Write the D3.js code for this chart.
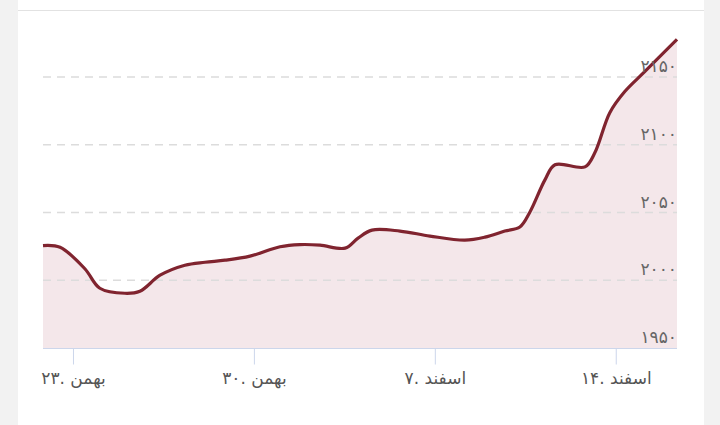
<!DOCTYPE html>
<html>
<head>
<meta charset="utf-8">
<script src="https://cdn.jsdelivr.net/npm/d3@7"></script>
<style>
    body { margin: 0; background: #f2f2f2; }
    svg { display: block; font-family: "DejaVu Sans", sans-serif; }
</style>
</head>
<body>
<svg id="chart"></svg>
<script>
// days counted from 23 Bahman (day 0); 30 Bahman = 7, 7 Esfand = 14, 14 Esfand = 21
const days = [-1.16, -0.5, 0.46, 1.04, 2.01, 2.59, 3.37, 4.33, 5.11, 5.88, 6.85,
    8.01, 8.78, 9.56, 10.53, 11.03, 11.57, 12.65, 13.81, 15.16, 15.94, 16.71, 17.29,
    17.68, 18.26, 18.65, 19.81, 20.19, 20.77, 21.35, 22.13, 23.37];
const prices = [2025.6, 2024.3, 2008.5, 1994.1, 1990.4, 1991.9, 2003.7, 2011.1, 2013.3, 2014.8, 2017.8,
    2024.7, 2026.3, 2025.9, 2023.7, 2031.1, 2037.0, 2036.3, 2032.6, 2029.6, 2031.8, 2036.3, 2039.3,
    2050.4, 2074.1, 2085.2, 2083.7, 2094.1, 2123.7, 2139.3, 2154.1, 2177.8];

const xTicks = [0, 7, 14, 21];
const xTickLabels = ["۲۳. بهمن", "۳۰. بهمن", "۷. اسفند", "۱۴. اسفند"];
const yTicks = [1950, 2000, 2050, 2100, 2150];

const width = 720;
const height = 425;

const toPersian = n => String(n).replace(/\d/g, c => "۰۱۲۳۴۵۶۷۸۹"[+c]);

const svg = d3.select("#chart")
    .attr("width", width)
    .attr("height", height);

// card
svg.append("rect")
    .attr("x", 18)
    .attr("y", 0)
    .attr("width", 686)
    .attr("height", height)
    .attr("fill", "#fff");

svg.append("line")
    .attr("x1", 18)
    .attr("x2", 704)
    .attr("y1", 10.5)
    .attr("y2", 10.5)
    .attr("stroke", "#e2e2e2")
    .attr("stroke-width", 1);

const xScale = d3.scaleLinear()
    .domain([d3.min(days), d3.max(days)])
    .range([43, 677]);

const yScale = d3.scaleLinear()
    .domain([1950, 2150])
    .range([348, 77]);

const data = days.map((d, i) => ({ day: d, value: prices[i] }));

const curve = d3.curveCatmullRom.alpha(0.5);

// area fill
const area = d3.area()
    .x(d => xScale(d.day))
    .y0(yScale(1950))
    .y1(d => yScale(d.value))
    .curve(curve);

svg.append("path")
    .datum(data)
    .attr("d", area)
    .attr("fill", "#f4e7ea");

// dashed gridlines
svg.append("g")
    .selectAll("line")
    .data(yTicks.filter(t => t > 1950))
    .enter()
    .append("line")
    .attr("x1", 43)
    .attr("x2", 677)
    .attr("y1", d => yScale(d))
    .attr("y2", d => yScale(d))
    .attr("stroke", "#dcdcdc")
    .attr("stroke-width", 1.5)
    .attr("stroke-dasharray", "8,6");

// line
const line = d3.line()
    .x(d => xScale(d.day))
    .y(d => yScale(d.value))
    .curve(curve);

svg.append("path")
    .datum(data)
    .attr("d", line)
    .attr("fill", "none")
    .attr("stroke", "#80242f")
    .attr("stroke-width", 3.2)
    .attr("stroke-linejoin", "round");

// y labels, inside the plot on the right
svg.append("g")
    .selectAll("text")
    .data(yTicks)
    .enter()
    .append("text")
    .attr("x", 677)
    .attr("y", d => yScale(d) - 5)
    .attr("text-anchor", "end")
    .attr("fill", "#666")
    .style("font-size", "17px")
    .text(d => toPersian(d));

// x axis
const xAxis = svg.append("g")
    .attr("transform", `translate(0,${yScale(1950) + 0.5})`)
    .call(d3.axisBottom(xScale)
        .tickValues(xTicks)
        .tickSize(16)
        .tickSizeOuter(0)
        .tickFormat((d, i) => xTickLabels[i]));

xAxis.select(".domain")
    .attr("stroke", "#ccd6eb")
    .attr("d", `M43,0H677`);

xAxis.selectAll(".tick line")
    .attr("stroke", "#ccd6eb");

xAxis.selectAll(".tick text")
    .attr("y", 35)
    .attr("dy", 0)
    .attr("fill", "#555")
    .style("font-size", "17px")
    .style("font-family", "\"DejaVu Sans\", sans-serif");
</script>
</body>
</html>
